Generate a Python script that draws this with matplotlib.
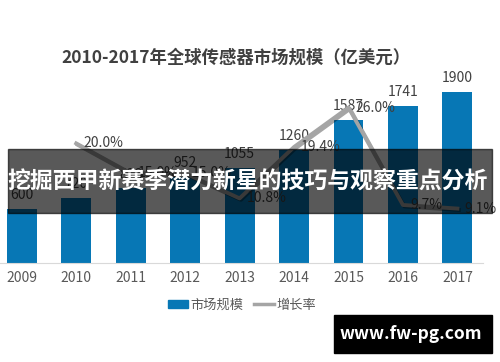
import matplotlib.pyplot as plt
import matplotlib.patheffects as pe
from matplotlib.patches import Rectangle, Patch
from matplotlib.lines import Line2D

plt.rcParams['font.family'] = ['Noto Sans CJK SC', 'DejaVu Sans']

# data
years = ['2009', '2010', '2011', '2012', '2013', '2014', '2015', '2016', '2017']
market = [600, 720, 828, 952, 1055, 1260, 1587, 1741, 1900]
growth = [None, 20.0, 15.0, 15.0, 10.8, 19.4, 26.0, 9.7, 9.1]

bar_color = '#0777b5'
line_color = '#a5a5a5'
text_color = '#595959'

fig = plt.figure(figsize=(5, 3.62), dpi=100)
ax = fig.add_axes([0.0, 99 / 362, 483 / 500, 180 / 362])
x = list(range(len(years)))

ax.bar(x, market, width=0.55, color=bar_color, zorder=2)
ax.set_xlim(-0.40, 8.47)
ax.set_ylim(0, 2000)
ax.set_yticks([])
for s in ['left', 'right', 'top']:
    ax.spines[s].set_visible(False)
ax.spines['bottom'].set_color('#d9d9d9')
ax.set_xticks(x)
ax.set_xticklabels(years, fontsize=10, color=text_color)
ax.tick_params(axis='x', length=0, pad=6)

for xi, v in zip(x, market):
    ax.annotate(str(v), (xi, v), xytext=(0, 5), textcoords='offset points',
                ha='center', va='bottom', fontsize=10, color='#404040')

ax2 = ax.twinx()
ax2.set_ylim(0, 30.1)
ax2.axis('off')
gx = [xi for xi, g in zip(x, growth) if g is not None]
gy = [g for g in growth if g is not None]
ax2.plot(gx, gy, color=line_color, lw=2.8, zorder=3,
         path_effects=[pe.SimpleLineShadow(offset=(1, -1), alpha=0.35), pe.Normal()])
for xi, g in zip(gx, gy):
    ax2.annotate(f'{g:.1f}%', (xi, g), xytext=(5, 0), textcoords='offset points',
                 ha='left', va='center', fontsize=10, color='#404040')

fig.text(0.472, 1 - 58 / 362, '2010-2017年全球传感器市场规模（亿美元）',
         ha='center', va='center', fontsize=12.5, fontweight='bold', color='#404040')

handles = [Patch(color=bar_color), Line2D([0], [0], color=line_color, lw=2.5)]
fig.legend(handles, ['市场规模', '增长率'], loc='center', bbox_to_anchor=(0.485, 1 - 305 / 362),
           ncol=2, frameon=False, fontsize=9.5, handlelength=1.5, handleheight=0.6,
           handletextpad=0.2, columnspacing=0.8, labelcolor=text_color)

# overlay banner
fig.patches.append(Rectangle((8 / 500, 1 - 213 / 362), 484 / 500, 64 / 362,
                             transform=fig.transFigure, color='black', alpha=0.65, zorder=5))
fig.text(0.495, 1 - 182 / 362, '挖掘西甲新赛季潜力新星的技巧与观察重点分析',
         ha='center', va='center', fontsize=16.5, fontweight='bold', color='white', zorder=6)

# watermark
fig.patches.append(Rectangle((334 / 500, 1 - 353 / 362), 158 / 500, 38 / 362,
                             transform=fig.transFigure, color='black', zorder=5))
fig.text(411 / 500, 1 - 334 / 362, 'www.fw-pg.com', ha='center', va='center',
         fontsize=12.5, fontweight='bold', color='white', zorder=6)

fig.savefig('out.png', dpi=100)
